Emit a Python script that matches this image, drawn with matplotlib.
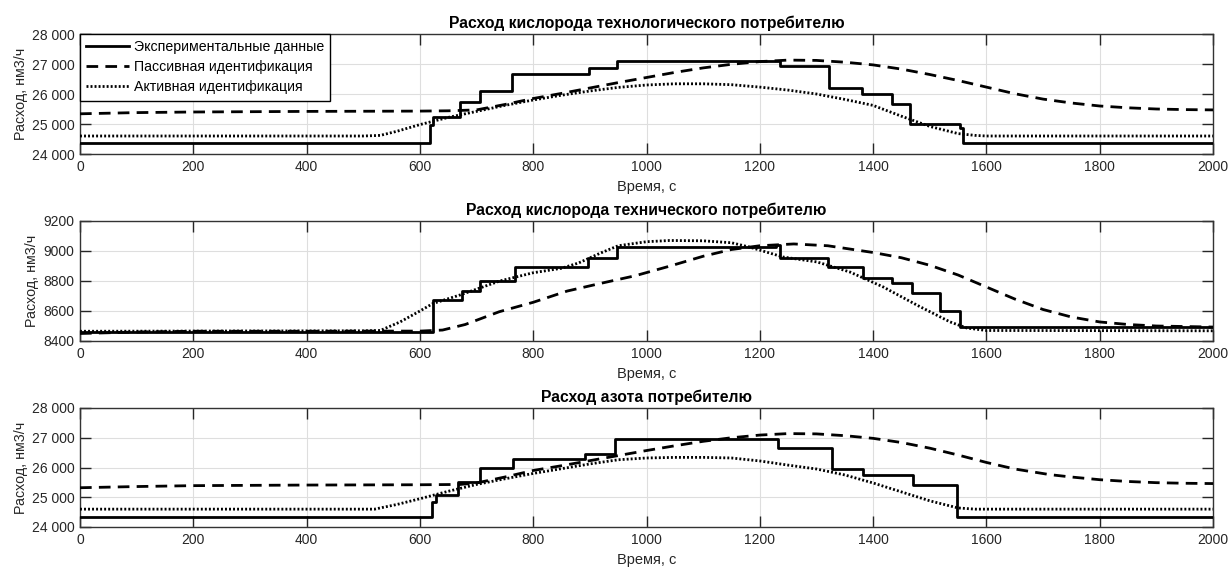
import matplotlib
matplotlib.use("Agg")
import matplotlib.pyplot as plt
from matplotlib.ticker import FuncFormatter, MultipleLocator

plt.rcParams['font.family'] = ['Liberation Sans', 'DejaVu Sans']

# ---------------- data ----------------
titles = ["Расход кислорода технологического потребителю",
          "Расход кислорода технического потребителю",
          "Расход азота потребителю"]
legend_labels = ["Экспериментальные данные", "Пассивная идентификация", "Активная идентификация"]
ylabel_text = "Расход, нм3/ч"
xlabel_text = "Время, с"

# Panel 1: technological oxygen
exp1_t = [0, 618, 623, 671, 706, 762, 899, 948, 1236, 1322, 1380, 1433, 1465, 1553, 1559, 2000]
exp1_v = [24370, 24970, 25230, 25730, 26100, 26670, 26870, 27090, 26940, 26200, 26000, 25670, 25000, 24870, 24370, 24370]
pas1_t = [0, 100, 200, 300, 400, 500, 600, 650, 700, 750, 800, 850, 900, 950, 1000, 1050, 1100, 1150,
          1200, 1250, 1300, 1350, 1400, 1450, 1500, 1550, 1600, 1650, 1700, 1750, 1800, 1850, 1900, 1950, 2000]
pas1_v = [25340, 25380, 25400, 25410, 25420, 25425, 25430, 25440, 25470, 25650, 25850, 26020, 26200, 26380,
          26550, 26720, 26870, 26990, 27080, 27130, 27120, 27060, 26970, 26830, 26650, 26450, 26230, 26010,
          25830, 25700, 25600, 25540, 25500, 25480, 25470]
act1_t = [0, 500, 530, 560, 600, 650, 700, 750, 800, 850, 900, 950, 1000, 1050, 1100, 1150, 1200, 1250,
          1300, 1350, 1400, 1450, 1500, 1550, 1580, 1600, 2000]
act1_v = [24600, 24600, 24620, 24760, 24980, 25220, 25420, 25620, 25800, 25960, 26100, 26220, 26300, 26340,
          26340, 26310, 26230, 26130, 26000, 25820, 25620, 25260, 24920, 24680, 24620, 24600, 24600]

# Panel 2: technical oxygen
exp2_t = [0, 623, 674, 706, 768, 897, 948, 1228, 1236, 1320, 1382, 1433, 1468, 1518, 1553, 2000]
exp2_v = [8460, 8673, 8733, 8800, 8893, 8953, 9025, 9040, 8953, 8893, 8820, 8787, 8720, 8600, 8490, 8490]
pas2_t = [0, 50, 100, 200, 300, 400, 500, 600, 640, 680, 740, 800, 860, 920, 980, 1040, 1100, 1150, 1200,
          1260, 1320, 1400, 1450, 1500, 1550, 1600, 1650, 1700, 1750, 1800, 1850, 1900, 2000]
pas2_v = [8450, 8455, 8460, 8465, 8465, 8465, 8466, 8466, 8473, 8510, 8595, 8658, 8733, 8785, 8835, 8898,
          8965, 9010, 9035, 9047, 9035, 8990, 8955, 8905, 8840, 8760, 8680, 8610, 8560, 8527, 8510, 8500, 8493]
act2_t = [0, 500, 530, 565, 600, 623, 671, 741, 800, 850, 880, 918, 950, 1000, 1041, 1100, 1150, 1183,
          1241, 1301, 1359, 1418, 1477, 1536, 1565, 1600, 2000]
act2_v = [8465, 8468, 8470, 8527, 8600, 8650, 8707, 8800, 8855, 8885, 8920, 8985, 9035, 9062, 9070, 9068,
          9055, 9025, 8960, 8927, 8860, 8760, 8640, 8527, 8487, 8470, 8468]

# Panel 3: nitrogen
exp3_t = [0, 621, 628, 667, 706, 764, 891, 944, 1232, 1327, 1382, 1471, 1548, 2000]
exp3_v = [24340, 24850, 25085, 25525, 25970, 26300, 26470, 26950, 26640, 25950, 25760, 25420, 24340, 24340]
pas3_t = [0, 100, 200, 400, 600, 671, 700, 750, 800, 850, 900, 950, 1000, 1050, 1100, 1150, 1200, 1250,
          1300, 1350, 1400, 1450, 1500, 1550, 1600, 1650, 1712, 1750, 1800, 1850, 1900, 1950, 2000]
pas3_v = [25320, 25360, 25390, 25410, 25420, 25430, 25480, 25680, 25900, 26060, 26230, 26400, 26570, 26730,
          26880, 27000, 27090, 27140, 27130, 27070, 26980, 26840, 26650, 26420, 26170, 25950, 25760, 25680,
          25590, 25530, 25490, 25470, 25460]
act3_t = [0, 520, 560, 600, 650, 700, 750, 800, 850, 900, 950, 1000, 1050, 1100, 1150, 1200, 1250, 1300,
          1350, 1400, 1450, 1500, 1550, 1580, 2000]
act3_v = [24600, 24600, 24760, 24950, 25200, 25430, 25620, 25800, 25960, 26120, 26260, 26320, 26340, 26340,
          26320, 26220, 26080, 25950, 25750, 25480, 25180, 24880, 24640, 24600, 24600]

ylims = [(24000, 28000), (8400, 9200), (24000, 28000)]
ysteps = [1000, 200, 1000]
xticks = list(range(0, 2001, 200))

panels = [(exp1_t, exp1_v, pas1_t, pas1_v, act1_t, act1_v),
          (exp2_t, exp2_v, pas2_t, pas2_v, act2_t, act2_v),
          (exp3_t, exp3_v, pas3_t, pas3_v, act3_t, act3_v)]

# ---------------- figure ----------------
W, H = 1229, 568
fig = plt.figure(figsize=(W / 100, H / 100), dpi=100)
boxes = [(34, 154), (221, 341), (408, 527)]
L, R = 80, 1213
txt = '#262626'

for i, ((et, ev, pt, pv, at, av), (top, bot)) in enumerate(zip(panels, boxes)):
    ax = fig.add_axes([L / W, 1 - bot / H, (R - L) / W, (bot - top) / H])
    ax.step(et, ev, where='post', color='black', lw=2.0, label=legend_labels[0], zorder=3)
    ax.plot(pt, pv, color='black', lw=2.0, linestyle=(0, (4.2, 2.6)), label=legend_labels[1], zorder=3)
    ax.plot(at, av, color='black', lw=2.0, linestyle=(0, (0.7, 0.75)), label=legend_labels[2], zorder=3)
    ax.set_xlim(0, 2000)
    ax.set_ylim(*ylims[i])
    ax.set_xticks(xticks)
    ax.yaxis.set_major_locator(MultipleLocator(ysteps[i]))
    if i != 1:
        ax.yaxis.set_major_formatter(FuncFormatter(lambda v, p: f"{int(v):,}".replace(",", " ")))
    ax.grid(True, color='#dedede', lw=0.8, zorder=0)
    ax.tick_params(direction='in', length=8, width=1, top=True, right=True,
                   labelsize=10, colors=txt, pad=4)
    for s in ax.spines.values():
        s.set_color('#333333')
        s.set_linewidth(1.0)
    ax.set_title(titles[i], fontsize=11.3, fontweight='bold', color='black', pad=4)
    ax.set_xlabel(xlabel_text, fontsize=10.5, color=txt, labelpad=4.5)
    ax.set_ylabel(ylabel_text, fontsize=10.3, color=txt, labelpad=3)
    if i == 0:
        leg = ax.legend(loc='upper left', fontsize=10.2, frameon=True, fancybox=False,
                        edgecolor='black', framealpha=1, handlelength=3.0,
                        borderaxespad=0, borderpad=0.45, labelspacing=0.42, handletextpad=0.35)
        leg.get_frame().set_linewidth(1.0)

fig.savefig("out.png", dpi=100)
